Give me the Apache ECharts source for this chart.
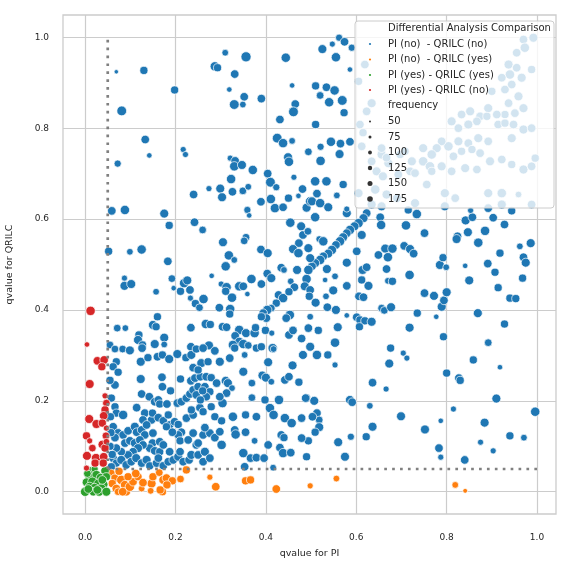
<!DOCTYPE html>
<html>
<head>
<meta charset="utf-8">
<script src="https://cdn.jsdelivr.net/npm/echarts@6/dist/echarts.min.js"></script>
<style>html,body{margin:0;padding:0;background:#fff}#c{width:573px;height:573px}</style>
</head>
<body>
<div id="c"></div>
<script>
// [qvalue PI, qvalue QRILC, frequency]
const piNoQrilcNo = [
[0.069,0.924,55],[0.130,0.927,120],[0.081,0.838,160],[0.198,0.884,120],[0.310,0.966,90],[0.356,0.957,170],[0.287,0.936,150],[0.293,0.933,120],[0.331,0.919,130],[0.319,0.885,70],[0.352,0.869,130],[0.349,0.852,90],[0.330,0.852,160],[0.390,0.865,130],[0.444,0.955,150],[0.458,0.894,70],[0.465,0.853,130],[0.461,0.836,160],[0.431,0.819,130],
[0.133,0.775,130],[0.142,0.740,70],[0.072,0.722,100],[0.217,0.753,80],[0.222,0.742,80],[0.321,0.734,80],[0.332,0.728,130],[0.330,0.716,150],[0.347,0.719,140],[0.371,0.708,150],[0.323,0.688,150],[0.404,0.700,130],[0.410,0.681,160],[0.425,0.778,160],[0.438,0.767,150],[0.458,0.772,90],[0.449,0.736,140],[0.451,0.726,150],[0.494,0.748,110],[0.462,0.692,80],
[0.562,0.999,100],[0.547,0.985,80],[0.525,0.974,140],[0.574,0.990,130],[0.590,0.977,100],[0.555,0.956,150],[0.586,0.929,70],[0.510,0.893,120],[0.534,0.890,130],[0.552,0.883,150],[0.520,0.872,110],[0.540,0.857,150],[0.569,0.861,160],[0.573,0.834,120],[0.510,0.808,120],
[0.521,0.759,100],[0.544,0.770,150],[0.565,0.766,130],[0.586,0.770,130],[0.521,0.728,150],[0.563,0.743,140],[0.509,0.683,150],[0.534,0.683,150],
[0.059,0.618,130],[0.088,0.620,150],[0.175,0.612,140],[0.186,0.586,120],[0.240,0.654,130],[0.274,0.667,80],[0.299,0.667,140],[0.303,0.648,140],[0.326,0.660,130],[0.349,0.662,110],[0.361,0.671,90],[0.359,0.620,100],[0.363,0.608,70],[0.242,0.593,130],[0.260,0.576,110],[0.389,0.638,130],[0.423,0.670,100],[0.411,0.644,150],[0.420,0.624,150],[0.438,0.626,130],[0.450,0.646,120],[0.472,0.651,70],[0.481,0.666,130],[0.490,0.625,140],[0.498,0.639,150],[0.454,0.592,150],[0.478,0.584,140],[0.482,0.565,130],[0.493,0.573,110],[0.305,0.549,140],[0.356,0.560,110],[0.352,0.552,110],[0.389,0.533,130],[0.404,0.525,140],[0.473,0.547,130],[0.460,0.534,140],[0.472,0.525,150],
[0.318,0.520,150],[0.330,0.510,90],[0.311,0.496,150],[0.052,0.529,120],[0.099,0.528,90],[0.125,0.533,150],[0.183,0.507,130],[0.280,0.475,70],[0.192,0.469,110],[0.196,0.448,70],[0.211,0.441,120],[0.219,0.459,150],[0.226,0.465,140],[0.232,0.444,130],[0.233,0.426,80],[0.244,0.414,120],[0.253,0.405,110],[0.262,0.424,150],[0.297,0.405,130],[0.321,0.402,150],[0.320,0.391,120],[0.301,0.457,80],[0.313,0.450,150],[0.311,0.441,120],[0.325,0.427,150],[0.341,0.452,150],[0.350,0.452,130],[0.359,0.435,70],[0.368,0.468,150],[0.390,0.457,130],[0.403,0.480,130],[0.412,0.470,140],[0.434,0.493,130],[0.440,0.488,90],[0.469,0.488,140],
[0.455,0.463,90],[0.490,0.468,150],[0.463,0.450,130],[0.486,0.452,140],[0.428,0.433,130],[0.438,0.426,150],[0.451,0.440,120],[0.423,0.415,120],[0.412,0.404,110],[0.403,0.400,150],[0.394,0.393,130],[0.401,0.382,130],[0.390,0.385,120],[0.453,0.389,150],[0.445,0.382,130],[0.087,0.470,80],[0.087,0.453,140],[0.102,0.457,140],[0.157,0.440,90],[0.160,0.385,120],[0.071,0.360,110],[0.089,0.360,90],[0.150,0.367,140],[0.157,0.363,120],[0.119,0.345,120],[0.117,0.334,140],[0.127,0.323,120],[0.175,0.339,140],[0.175,0.324,90],[0.154,0.325,140],[0.055,0.323,110],
[0.234,0.361,130],[0.267,0.369,150],[0.277,0.368,120],[0.304,0.363,130],[0.313,0.362,130],[0.341,0.356,150],[0.332,0.343,130],[0.356,0.349,140],[0.375,0.349,150],[0.377,0.361,120],[0.399,0.355,120],[0.413,0.349,80],[0.451,0.345,130],[0.460,0.355,130],[0.341,0.330,140],[0.350,0.325,150],[0.274,0.322,140],[0.234,0.319,130],[0.327,0.323,150],[0.415,0.316,150],[0.479,0.337,130],
[0.571,0.676,120],[0.513,0.656,130],[0.557,0.652,90],[0.502,0.639,140],[0.520,0.635,150],[0.538,0.626,140],[0.579,0.613,140],[0.579,0.622,80],[0.509,0.604,150],
[0.623,0.613,130],[0.616,0.602,140],[0.605,0.591,150],[0.596,0.584,140],[0.586,0.576,150],[0.579,0.569,130],[0.571,0.560,140],[0.564,0.551,150],[0.555,0.543,130],[0.546,0.532,150],[0.538,0.524,140],[0.527,0.518,130],[0.520,0.510,150],[0.509,0.503,140],[0.502,0.496,130],[0.494,0.488,150],
[0.653,0.604,130],[0.655,0.587,150],[0.612,0.565,140],[0.601,0.529,130],[0.579,0.504,140],[0.494,0.536,140],[0.518,0.556,90],[0.527,0.551,150],[0.498,0.514,140],[0.535,0.490,140],[0.531,0.466,70],[0.553,0.474,90],[0.498,0.444,130],[0.549,0.443,140],[0.579,0.453,130],[0.496,0.430,120],[0.533,0.430,90],[0.510,0.416,140],[0.536,0.406,130],[0.555,0.400,140],[0.498,0.385,90],[0.579,0.388,70],[0.494,0.360,130],[0.516,0.355,120],[0.559,0.362,140],[0.553,0.328,150],[0.498,0.319,140],
[0.649,0.521,130],[0.664,0.535,140],[0.680,0.535,150],[0.670,0.516,150],[0.706,0.541,130],[0.719,0.534,140],[0.727,0.524,130],[0.710,0.586,150],[0.734,0.611,150],[0.715,0.620,120],[0.751,0.569,130],[0.614,0.488,140],[0.623,0.494,130],[0.612,0.466,120],[0.627,0.453,140],[0.667,0.490,130],[0.670,0.464,90],[0.680,0.463,120],[0.718,0.477,150],[0.606,0.430,130],[0.616,0.428,130],[0.656,0.404,110],[0.662,0.399,110],[0.677,0.406,140],[0.601,0.384,130],[0.608,0.378,120],[0.619,0.376,120],[0.634,0.374,140],[0.607,0.363,120],[0.718,0.361,140],[0.735,0.393,120],[0.777,0.385,70],[0.751,0.437,130],[0.772,0.431,140],[0.789,0.407,140],[0.794,0.421,130],[0.800,0.439,140],[0.785,0.499,140],[0.799,0.494,90],[0.792,0.515,120],[0.793,0.341,120],[0.676,0.316,120],[0.841,0.497,70],[0.850,0.465,140],[0.891,0.502,130],[0.907,0.483,120],[0.914,0.449,120],[0.918,0.525,120],[0.940,0.426,120],[0.953,0.425,120],[0.968,0.470,120],[0.970,0.516,130],[0.975,0.504,140],[0.962,0.540,90],[0.986,0.547,140],[0.870,0.548,150],[0.885,0.574,150],[0.847,0.571,140],[0.824,0.562,130],[0.822,0.556,140],[0.842,0.597,140],[0.857,0.604,130],[0.903,0.603,130],[0.928,0.588,130],[0.944,0.618,120],[0.853,0.619,80],[0.869,0.393,140],[0.928,0.369,120],[0.892,0.328,110],
[0.918,0.274,70],[0.859,0.290,120],[0.910,0.205,140],[0.996,0.176,150],[0.884,0.152,140],[0.940,0.123,120],[0.971,0.119,90],[0.875,0.109,80],[0.903,0.090,80],[0.840,0.070,130],[0.815,0.182,80],[0.787,0.156,70],[0.783,0.096,130],[0.787,0.076,80],[0.752,0.137,140],[0.699,0.166,140],[0.800,0.261,120],[0.827,0.250,130],[0.830,0.245,120],[0.673,0.282,140],[0.704,0.305,80],[0.712,0.294,80],[0.666,0.226,80],
[0.513,0.301,150],[0.537,0.301,120],[0.553,0.279,80],[0.490,0.206,120],[0.507,0.200,140],[0.513,0.173,130],[0.518,0.158,110],[0.518,0.142,140],[0.509,0.131,120],[0.494,0.112,120],[0.490,0.077,120],[0.560,0.109,140],[0.575,0.077,140],[0.588,0.121,100],[0.586,0.202,140],[0.591,0.197,130],[0.622,0.121,120],[0.636,0.143,140],[0.630,0.189,90],[0.636,0.240,130],
[0.066,0.314,110],[0.083,0.314,110],[0.099,0.311,140],[0.126,0.316,130],[0.160,0.297,130],[0.171,0.301,120],[0.186,0.292,140],[0.204,0.303,140],[0.223,0.295,120],[0.235,0.301,140],[0.246,0.314,120],[0.261,0.316,130],[0.257,0.283,140],[0.287,0.310,130],[0.272,0.286,120],[0.298,0.286,140],[0.320,0.294,130],[0.331,0.316,120],[0.361,0.322,110],[0.353,0.301,90],[0.379,0.316,120],[0.390,0.319,120],[0.417,0.314,90],[0.405,0.285,140],[0.459,0.278,140],[0.482,0.301,140],[0.069,0.286,120],[0.062,0.275,120],[0.073,0.263,120],[0.123,0.286,140],[0.139,0.295,120],[0.123,0.248,140],[0.170,0.252,130],[0.171,0.231,130],[0.189,0.222,120],[0.211,0.248,120],[0.234,0.244,130],[0.243,0.250,130],[0.255,0.253,130],[0.239,0.273,130],[0.250,0.268,120],[0.268,0.253,130],[0.279,0.251,120],[0.291,0.239,130],[0.311,0.244,140],[0.316,0.239,140],[0.325,0.228,90],[0.313,0.217,130],[0.350,0.264,140],[0.369,0.239,110],[0.392,0.256,130],[0.400,0.251,140],[0.412,0.242,90],[0.442,0.246,130],[0.451,0.253,130],[0.473,0.241,120],
[0.066,0.235,130],[0.125,0.215,130],[0.142,0.209,130],[0.154,0.198,130],[0.162,0.202,130],[0.165,0.193,120],[0.181,0.193,130],[0.204,0.195,130],[0.213,0.198,130],[0.224,0.206,130],[0.232,0.215,130],[0.239,0.224,130],[0.250,0.231,130],[0.265,0.231,130],[0.276,0.220,120],[0.268,0.209,130],[0.254,0.185,130],[0.261,0.176,120],[0.279,0.187,120],[0.304,0.195,150],[0.287,0.165,120],[0.302,0.156,120],[0.327,0.165,150],[0.355,0.169,120],[0.379,0.165,130],[0.409,0.184,150],[0.417,0.169,150],[0.429,0.202,150],[0.442,0.162,150],[0.457,0.151,150],[0.479,0.162,130],[0.488,0.206,130],
[0.066,0.187,120],[0.069,0.173,120],[0.084,0.169,150],[0.114,0.185,130],[0.132,0.173,130],[0.128,0.158,130],[0.147,0.158,130],[0.149,0.173,120],[0.162,0.163,130],[0.173,0.156,130],[0.184,0.169,120],[0.187,0.147,130],[0.180,0.143,120],[0.198,0.154,130],[0.206,0.148,120],[0.213,0.131,130],[0.206,0.125,130],[0.210,0.112,120],[0.193,0.131,130],[0.062,0.143,130],[0.073,0.129,140],[0.084,0.125,130],[0.066,0.119,130],[0.095,0.134,130],[0.110,0.143,140],[0.114,0.131,130],[0.125,0.136,130],[0.132,0.125,130],[0.136,0.147,130],[0.150,0.129,130],[0.149,0.107,130],[0.165,0.110,130],[0.143,0.096,130],[0.154,0.090,130],[0.165,0.088,120],[0.173,0.103,130],[0.088,0.107,130],[0.099,0.112,130],[0.110,0.107,140],[0.121,0.114,130],[0.128,0.103,130],[0.117,0.096,140],[0.106,0.088,130],[0.095,0.081,130],[0.080,0.088,130],[0.069,0.096,130],
[0.062,0.074,130],[0.069,0.063,120],[0.080,0.070,140],[0.091,0.059,130],[0.102,0.066,130],[0.113,0.074,140],[0.125,0.063,130],[0.136,0.070,140],[0.143,0.057,120],[0.158,0.063,130],[0.162,0.074,130],[0.173,0.057,130],[0.184,0.066,130],[0.195,0.070,130],[0.206,0.077,140],[0.217,0.066,130],[0.230,0.070,130],[0.235,0.081,140],[0.187,0.088,130],[0.210,0.088,130],[0.246,0.103,130],[0.250,0.081,130],[0.265,0.088,140],[0.261,0.066,130],[0.276,0.074,130],[0.302,0.103,150],[0.331,0.136,130],[0.333,0.126,150],[0.355,0.131,130],[0.375,0.112,90],[0.350,0.085,150],[0.353,0.055,130],[0.366,0.074,130],[0.379,0.075,130],[0.396,0.074,130],[0.405,0.103,130],[0.431,0.097,130],[0.438,0.085,150],[0.455,0.086,130],[0.434,0.125,130],[0.440,0.119,120],[0.416,0.053,90],[0.479,0.118,130],[0.398,0.202,120],[0.369,0.207,110],[0.298,0.209,130],[0.246,0.213,130],[0.255,0.202,120],[0.260,0.222,120],[0.228,0.114,130],[0.239,0.129,130],[0.250,0.107,130],[0.261,0.125,130],[0.276,0.129,130],[0.287,0.119,130],[0.265,0.141,130],[0.298,0.132,130],[0.224,0.162,130],[0.239,0.169,130],[0.235,0.180,120],[0.055,0.245,120],[0.058,0.206,120],[0.056,0.165,120],[0.057,0.130,120],[0.055,0.100,120],[0.060,0.082,120],[0.058,0.055,120],[0.503,0.165,130],
[0.970,0.995,130],[0.992,0.999,140],[0.973,0.977,150],[0.955,0.966,130],[0.937,0.940,140],[0.955,0.933,130],[0.940,0.918,150],[0.922,0.911,130],[0.988,0.929,120],[0.966,0.911,140],[0.944,0.896,130],[0.900,0.881,120],[0.929,0.885,130],[0.959,0.870,140],[0.937,0.855,130],[0.970,0.844,140],[0.951,0.833,130],[0.929,0.830,120],[0.911,0.830,130],[0.892,0.844,140],[0.874,0.826,130],[0.852,0.837,140],[0.833,0.830,130],[0.811,0.815,140],[0.826,0.800,130],[0.848,0.808,140],[0.867,0.815,130],[0.889,0.826,120],[0.914,0.808,130],[0.929,0.811,120],[0.948,0.808,130],[0.970,0.797,140],[0.988,0.800,130],[0.944,0.778,140],[0.892,0.771,130],[0.870,0.778,140],[0.848,0.767,130],[0.826,0.771,140],[0.804,0.760,150],[0.789,0.771,130],[0.778,0.756,140],[0.767,0.742,150],[0.748,0.727,150],[0.723,0.727,140],[0.719,0.705,130],[0.697,0.742,120],[0.708,0.749,120],[0.748,0.756,140],[0.763,0.716,150],[0.789,0.716,140],[0.815,0.738,130],[0.833,0.749,120],[0.856,0.753,120],[0.874,0.745,130],[0.896,0.727,140],[0.922,0.731,130],[0.944,0.720,120],[0.970,0.709,140],[0.988,0.716,130],[0.996,0.734,120],[0.841,0.712,140],[0.867,0.709,130],[0.811,0.705,130],[0.634,0.855,140],[0.623,0.837,130],[0.608,0.808,130],[0.619,0.940,130],[0.605,0.903,120],[0.645,0.705,140],[0.634,0.727,130],[0.612,0.760,130],[0.656,0.742,140],[0.671,0.723,140],[0.693,0.698,130],[0.730,0.701,130],[0.767,0.705,120],[0.605,0.657,140],[0.642,0.665,150],[0.667,0.654,140],[0.690,0.646,130],[0.634,0.632,140],[0.656,0.628,140],[0.730,0.635,140],[0.796,0.657,140],[0.819,0.646,130],[0.796,0.628,140],[0.892,0.657,140],[0.922,0.657,150],[0.922,0.632,140],[0.892,0.624,130],[0.959,0.654,90],[0.988,0.632,130],[0.756,0.676,130],[0.656,0.756,130],[0.667,0.735,130],[0.659,0.694,140],[0.615,0.790,120]
];
const piNoQrilcYes = [
[0.058,0.041,110],[0.066,0.030,120],[0.060,0.018,120],[0.069,0.007,130],[0.080,0.026,150],[0.088,0.015,140],[0.091,0.000,130],[0.099,0.011,150],[0.106,0.022,130],[0.073,0.000,110],[0.083,0.000,130],[0.095,0.033,120],[0.117,0.033,120],[0.125,0.007,90],[0.147,0.018,140],[0.150,0.033,120],[0.164,0.042,110],[0.173,0.026,140],[0.180,0.030,130],[0.193,0.024,120],[0.181,0.015,120],[0.171,0.000,120],[0.145,0.002,90],[0.211,0.028,110],[0.224,0.048,120],[0.276,0.032,80],[0.289,0.011,130],[0.355,0.024,120],[0.366,0.026,120],[0.423,0.006,130],[0.498,0.013,80],[0.556,0.029,90],[0.819,0.015,90],[0.841,0.002,60],[0.166,0.004,120],[0.112,0.040,130],[0.075,0.045,120],[0.128,0.020,130]
];
const piYesQrilcYes = [
[0.013,0.046,120],[0.021,0.050,100],[0.044,0.046,130],[0.009,0.033,130],[0.025,0.037,140],[0.034,0.031,130],[0.047,0.033,120],[0.003,0.021,130],[0.016,0.022,150],[0.029,0.018,140],[0.041,0.016,130],[0.010,0.011,140],[0.021,0.009,130],[0.036,0.007,150],[0.000,0.000,150],[0.018,0.000,130],[0.031,0.000,140],[0.047,0.000,140],[0.007,0.006,130],[0.038,0.026,130],[0.005,0.040,110],[0.027,0.004,130]
];
const piYesQrilcNo = [
[0.012,0.398,150],[0.004,0.324,70],[0.027,0.288,130],[0.042,0.290,130],[0.037,0.275,120],[0.010,0.237,140],[0.044,0.211,80],[0.047,0.195,110],[0.044,0.180,120],[0.009,0.160,140],[0.025,0.149,140],[0.041,0.167,130],[0.038,0.151,120],[0.047,0.140,80],[0.046,0.123,110],[0.003,0.123,120],[0.010,0.112,80],[0.038,0.104,130],[0.016,0.096,110],[0.004,0.079,140],[0.024,0.074,150],[0.041,0.077,130],[0.022,0.063,120],[0.040,0.063,120],[0.003,0.052,80],[0.044,0.096,120],[0.047,0.110,90]
];
const seriesNames = ['PI (no)  - QRILC (no)','PI (no)  - QRILC (yes)','PI (yes) - QRILC (yes)','PI (yes) - QRILC (no)'];
const seriesColors = ['#1f77b4','#ff7f0e','#2ca02c','#d62728'];
const sizeLegend = [50,75,100,125,150,175];
const tickValues = [0.0,0.2,0.4,0.6,0.8,1.0];
const cutoff = 0.05;
const vLine = [[cutoff,cutoff],[cutoff,1.0]];
const hLine = [[cutoff,cutoff],[1.0,cutoff]];

const FONT = 'DejaVu Sans';
const TXT = '#262626';
function sz(f){ return Math.sqrt(16 + (f-50)/130*94); }

const allData = [piNoQrilcNo, piNoQrilcYes, piYesQrilcYes, piYesQrilcNo];
const series = allData.map((d,i)=>({
  name: seriesNames[i], type:'scatter', data:d, z:2,
  symbolSize: v=>sz(v[2]),
  itemStyle:{color:seriesColors[i], borderColor:'#ffffff', borderWidth:0.7, opacity:1},
  silent:true
}));
const dash = {color:'#808080', width:2.7, type:[2.7,5.2], cap:'butt'};
series.push({type:'line', data:vLine, symbol:'none', lineStyle:dash, z:3, silent:true});
series.push({type:'line', data:hLine, symbol:'none', lineStyle:dash, z:3, silent:true});

// legend via graphic
const LX = 355, LY = 21, LW = 199, LH = 187;
const gEls = [{type:'rect', shape:{x:LX,y:LY,width:LW,height:LH,r:3}, style:{fill:'rgba(255,255,255,0.8)', stroke:'#cccccc', lineWidth:1}, z:100}];
const rows = [];
rows.push({text:'Differential Analysis Comparison'});
seriesNames.forEach((n,i)=>rows.push({text:n, color:seriesColors[i], r:1.1}));
rows.push({text:'frequency'});
sizeLegend.forEach((s,i)=>rows.push({text:String(s), color:'#333333', r:[1.0,1.5,1.9,2.2,2.5,2.8][i]}));
const rowY = [28.5,44,59.5,75,90,105.5,121.5,137,152.5,168,183.5,199];
rows.forEach((r,i)=>{
  gEls.push({type:'text', x:388, y:rowY[i], style:{text:r.text, fill:TXT, font:'10px "DejaVu Sans"', verticalAlign:'middle', align:'left'}, z:101});
  if (r.r) gEls.push({type:'circle', shape:{cx:370, cy:rowY[i], r:r.r}, style:{fill:r.color}, z:101});
});

const chart = echarts.init(document.getElementById('c'), null, {renderer:'canvas'});
chart.setOption({
  animation:false,
  backgroundColor:'#ffffff',
  grid:{left:63, right:17, top:15, bottom:59, show:true, borderColor:'#cccccc', borderWidth:1.3, backgroundColor:'transparent', outerBoundsMode:'none', containLabel:false},
  xAxis:{type:'value', min:-0.049, max:1.042,
    name:'qvalue for PI', nameLocation:'middle', nameGap:35,
    nameTextStyle:{fontFamily:FONT, fontSize:9.5, color:TXT},
    axisLine:{show:false}, axisTick:{show:false, customValues:tickValues},
    axisLabel:{customValues:tickValues, formatter:v=>v.toFixed(1), fontFamily:FONT, fontSize:9, color:TXT, margin:19},
    splitLine:{show:true, lineStyle:{color:'#cccccc', width:1.2}}},
  yAxis:{type:'value', min:-0.049, max:1.049,
    name:'qvalue for QRILC', nameLocation:'middle', nameGap:48, nameRotate:90,
    nameTextStyle:{fontFamily:FONT, fontSize:9.5, color:TXT},
    axisLine:{show:false}, axisTick:{show:false, customValues:tickValues},
    axisLabel:{customValues:tickValues, formatter:v=>v.toFixed(1), fontFamily:FONT, fontSize:9, color:TXT, margin:14},
    splitLine:{show:true, lineStyle:{color:'#cccccc', width:1.2}}},
  series: series,
  graphic: gEls
});
</script>
</body>
</html>
